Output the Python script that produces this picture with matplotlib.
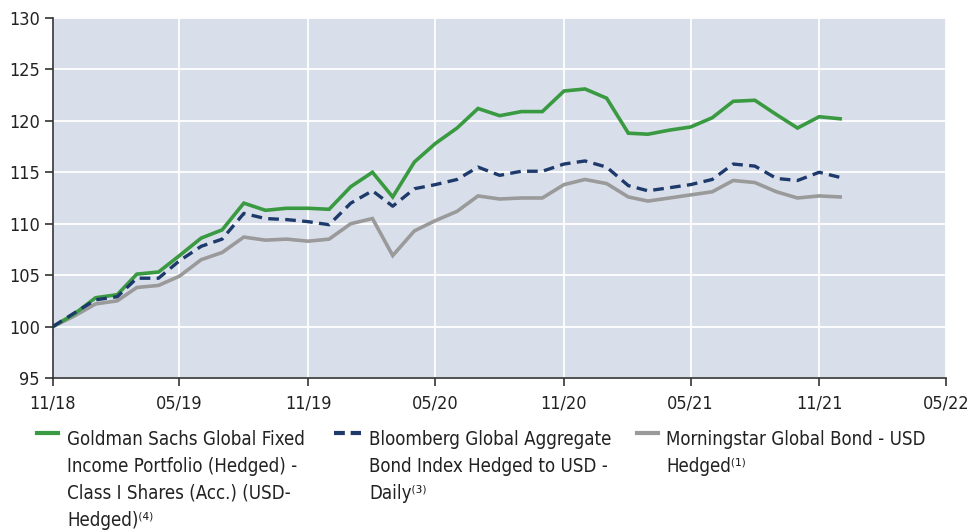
import matplotlib.pyplot as plt
import matplotlib.dates as mdates
from matplotlib.lines import Line2D
import pandas as pd

plt.rcParams['font.family'] = ['DejaVu Sans']
plt.rcParams['font.stretch'] = 'condensed'

meses = pd.date_range('2018-11-01', periods=38, freq='MS')

goldman = [100.0, 101.2, 102.8, 103.1, 105.1, 105.3, 106.9, 108.6, 109.4, 112.0,
           111.3, 111.5, 111.5, 111.4, 113.6, 115.0, 112.6, 116.0, 117.8, 119.3,
           121.2, 120.5, 120.9, 120.9, 122.9, 123.1, 122.2, 118.8, 118.7, 119.1,
           119.4, 120.3, 121.9, 122.0, 120.6, 119.3, 120.4, 120.2]
bloomberg = [100.0, 101.3, 102.6, 102.9, 104.7, 104.7, 106.4, 107.8, 108.5, 111.0,
             110.5, 110.4, 110.2, 109.9, 112.0, 113.2, 111.7, 113.4, 113.8, 114.3,
             115.5, 114.7, 115.1, 115.1, 115.8, 116.1, 115.5, 113.7, 113.2, 113.5,
             113.8, 114.3, 115.8, 115.6, 114.4, 114.2, 115.0, 114.5]
morningstar = [100.0, 101.0, 102.2, 102.5, 103.8, 104.0, 104.9, 106.5, 107.2, 108.7,
               108.4, 108.5, 108.3, 108.5, 110.0, 110.5, 106.9, 109.3, 110.3, 111.2,
               112.7, 112.4, 112.5, 112.5, 113.8, 114.3, 113.9, 112.6, 112.2, 112.5,
               112.8, 113.1, 114.2, 114.0, 113.1, 112.5, 112.7, 112.6]

cor_verde = '#3a9a41'
cor_azul = '#1d3a6b'
cor_cinza = '#9a9a9a'

fig = plt.figure(figsize=(9.77, 5.32), dpi=100)
ax = fig.add_axes([0.0542, 0.2895, 0.9138, 0.6767])
ax.set_facecolor('#d9dfea')

ax.plot(meses, morningstar, color=cor_cinza, linewidth=2.6, solid_joinstyle='miter')
ax.plot(meses, goldman, color=cor_verde, linewidth=2.6, solid_joinstyle='miter')
ax.plot(meses, bloomberg, color=cor_azul, linewidth=2.4, dashes=(3.2, 1.9))

ax.set_ylim(95, 130)
ax.set_yticks(range(95, 131, 5))
ax.set_xlim(pd.Timestamp('2018-11-01'), pd.Timestamp('2022-05-01'))
ticks = pd.date_range('2018-11-01', '2022-05-01', freq='6MS')
ax.set_xticks(ticks)
ax.xaxis.set_major_formatter(mdates.DateFormatter('%m/%y'))

ax.grid(True, color='white', linewidth=1.3)
ax.set_axisbelow(True)
for lado in ['top', 'right']:
    ax.spines[lado].set_visible(False)
for lado in ['left', 'bottom']:
    ax.spines[lado].set_color('#333333')
    ax.spines[lado].set_linewidth(1.2)
ax.tick_params(axis='both', colors='#333333', labelcolor='#222222', labelsize=13,
               length=6, width=1.2)
ax.tick_params(axis='x', pad=6)

# legenda manual
W, H = 977, 532
def fx(px):
    return px / W
def fy(py):
    return 1 - py / H

entradas = [
    (37, 58, 67, cor_verde, None,
     'Goldman Sachs Global Fixed\nIncome Portfolio (Hedged) -\nClass I Shares (Acc.) (USD-\nHedged)⁽⁴⁾'),
    (334, 361, 369, cor_azul, (2.6, 1.4),
     'Bloomberg Global Aggregate\nBond Index Hedged to USD -\nDaily⁽³⁾'),
    (637, 658, 666, cor_cinza, None,
     'Morningstar Global Bond - USD\nHedged⁽¹⁾'),
]
for x0, x1, xt, cor, tracos, texto in entradas:
    linha = Line2D([fx(x0), fx(x1)], [fy(433), fy(433)], color=cor, linewidth=3,
                   transform=fig.transFigure)
    if tracos:
        linha.set_dashes(tracos)
    fig.add_artist(linha)
    fig.text(fx(xt), fy(430), texto, ha='left', va='top', fontsize=13.4,
             color='#222222', linespacing=1.53)

fig.savefig('out.png', dpi=100)
